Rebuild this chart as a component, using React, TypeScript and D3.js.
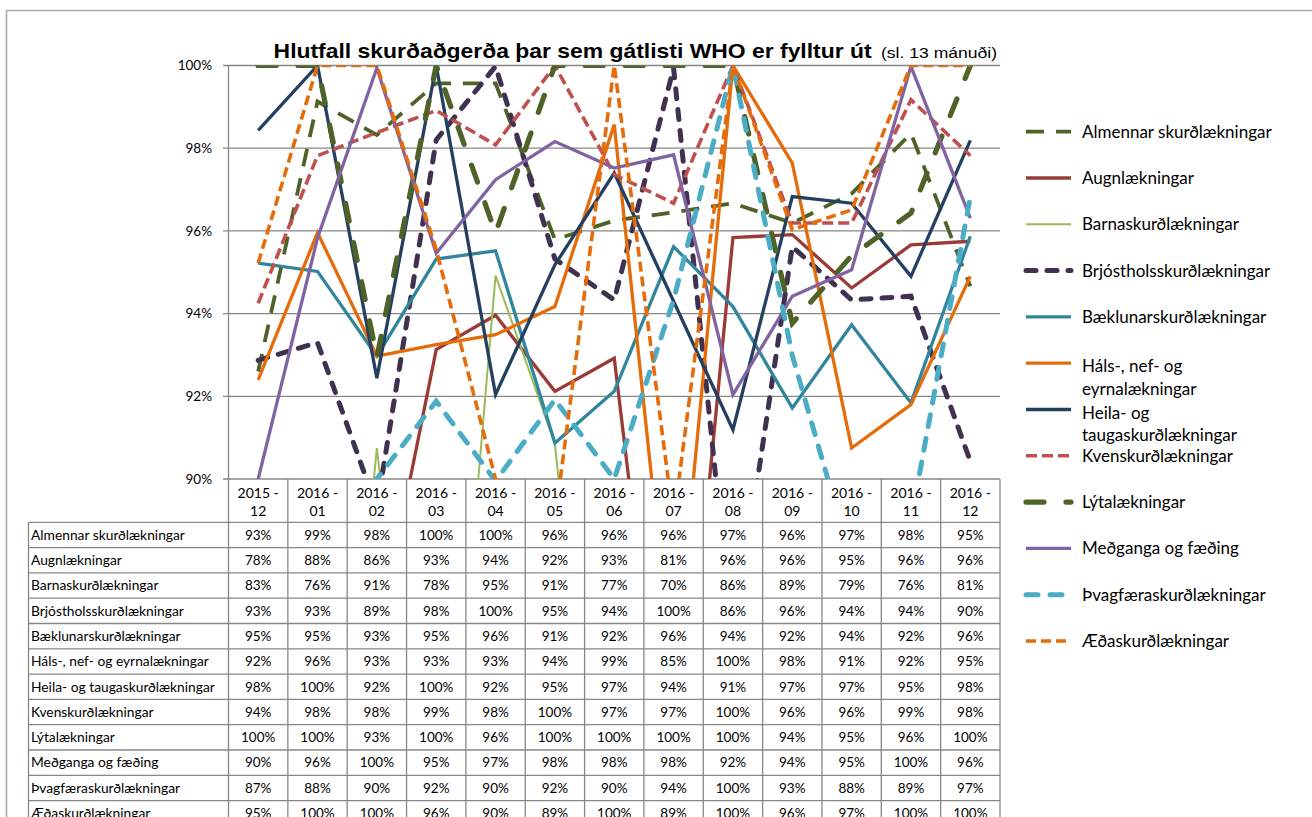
import React from 'react';
import * as d3 from 'd3';

// ---------- DATA ----------
const categories = [
  '2015 - 12', '2016 - 01', '2016 - 02', '2016 - 03', '2016 - 04', '2016 - 05', '2016 - 06',
  '2016 - 07', '2016 - 08', '2016 - 09', '2016 - 10', '2016 - 11', '2016 - 12',
];
const yTicks = [90, 92, 94, 96, 98, 100];

const seriesNames = [
  'Almennar skurðlækningar',
  'Augnlækningar',
  'Barnaskurðlækningar',
  'Brjóstholsskurðlækningar',
  'Bæklunarskurðlækningar',
  'Háls-, nef- og eyrnalækningar',
  'Heila- og taugaskurðlækningar',
  'Kvenskurðlækningar',
  'Lýtalækningar',
  'Meðganga og fæðing',
  'Þvagfæraskurðlækningar',
  'Æðaskurðlækningar',
];
const legendLabels = [
  ['Almennar skurðlækningar'],
  ['Augnlækningar'],
  ['Barnaskurðlækningar'],
  ['Brjóstholsskurðlækningar'],
  ['Bæklunarskurðlækningar'],
  ['Háls-, nef- og', 'eyrnalækningar'],
  ['Heila- og', 'taugaskurðlækningar'],
  ['Kvenskurðlækningar'],
  ['Lýtalækningar'],
  ['Meðganga og fæðing'],
  ['Þvagfæraskurðlækningar'],
  ['Æðaskurðlækningar'],
];

const almennar = [92.6, 99.13, 98.32, 99.57, 99.57, 95.79, 96.25, 96.45, 96.67, 96.19, 96.9, 98.36, 94.66];
const augn = [78, 88, 86, 93.13, 93.96, 92.12, 92.92, 81, 95.84, 95.91, 94.62, 95.66, 95.75];
const barna = [83, 76, 90.75, 78, 94.92, 90.85, 77, 70, 86, 89, 79, 76, 81];
const brjost = [92.87, 93.3, 89.3, 98.2, 99.98, 95.32, 94.33, 99.94, 86, 95.62, 94.33, 94.42, 90.43];
const baeklun = [95.22, 95.02, 92.97, 95.32, 95.52, 90.87, 92.12, 95.62, 94.17, 91.72, 93.73, 91.84, 95.87];
const hals = [92.4, 95.96, 92.97, 93.25, 93.49, 94.17, 98.57, 85, 100, 97.64, 90.75, 91.8, 94.9];
const heila = [98.43, 100, 92.44, 100, 92.04, 95.18, 97.4, 94.3, 91.19, 96.83, 96.67, 94.9, 98.19];
const kvensk = [94.25, 97.82, 98.38, 98.91, 98.08, 100, 97.36, 96.67, 100, 96.19, 96.19, 99.17, 97.82];
const lyta = [100, 100, 92.95, 100, 95.95, 100, 100, 100, 100, 93.77, 95.4, 96.43, 100];
const medganga = [90.0, 95.83, 99.94, 95.46, 97.24, 98.16, 97.52, 97.84, 92.04, 94.42, 95.06, 99.98, 96.31];
const thvag = [87, 88, 90.0, 91.88, 89.95, 91.92, 90.0, 94.33, 100, 92.99, 88, 89, 96.83];
const aeda = [95.22, 100, 100, 95.55, 90.0, 89, 100, 89, 100, 96.03, 96.51, 100, 100];

const seriesValues = [almennar, augn, barna, brjost, baeklun, hals, heila, kvensk, lyta, medganga, thvag, aeda];

// ---------- STYLES ----------
const seriesStyles = [
  { color: '#4F6228', width: 3.8, dash: '18 12', cap: 'butt' },
  { color: '#9B3B38', width: 3.3, dash: '', cap: 'butt' },
  { color: '#9BBB59', width: 2, dash: '', cap: 'butt' },
  { color: '#403151', width: 5, dash: '10 11', cap: 'round' },
  { color: '#31859C', width: 3.3, dash: '', cap: 'butt' },
  { color: '#E46C0A', width: 3.3, dash: '', cap: 'butt' },
  { color: '#243F60', width: 3.3, dash: '', cap: 'butt' },
  { color: '#C0504D', width: 3.6, dash: '11 5', cap: 'butt' },
  { color: '#4F6228', width: 5.2, dash: '18 22', cap: 'round' },
  { color: '#8064A2', width: 3.3, dash: '', cap: 'butt' },
  { color: '#4BACC6', width: 5, dash: '12 12', cap: 'round' },
  { color: '#E46C0A', width: 3.6, dash: '10 5', cap: 'butt' },
];

const W = 1312;
const H = 817;
const plotL = 228.5;
const plotR = 1000;
const plotT = 65.5;
const plotB = 479;
const headerB = 522.3;
const rowH = 25.3;
const tableL = 28.5;
const gridColor = '#878787';
const font = "Lato, 'Open Sans', sans-serif";

export default function App() {
  const x = d3.scaleBand<string>().domain(categories).range([plotL, plotR]).paddingInner(0).paddingOuter(0);
  const bw = x.bandwidth();
  const cx = (i: number) => (x(categories[i]) as number) + bw / 2;
  const y = d3.scaleLinear().domain([90, 100]).range([plotB, plotT]);

  const line = d3
    .line<number>()
    .x((_, i) => cx(i))
    .y((d) => y(d));

  const legendY = d3.scaleLinear().domain([0, 11]).range([131.7, 641]);

  const colEdges = d3.range(categories.length + 1).map((k) => plotL + k * bw);

  return (
    <svg
      width={W}
      height={H}
      style={{ position: 'absolute', left: 0, top: 0, background: '#fff' }}
      fontFamily={font}
    >
      <defs>
        <clipPath id="plotClip">
          <rect x={plotL} y={plotT} width={plotR - plotL} height={plotB - plotT} />
        </clipPath>
      </defs>
      <rect x={0} y={0} width={W} height={H} fill="#fff" />
      {/* outer frame */}
      <path d={`M6.5,${H} L6.5,10.5 L${W},10.5`} fill="none" stroke="#ababab" strokeWidth={1.6} />

      {/* title */}
      <text
        x={273.6}
        y={57.5}
        fontFamily="'Liberation Sans Narrow','Liberation Sans',Arial,sans-serif"
        fontWeight="bold"
        fontSize={21}
        textLength={598}
        lengthAdjust="spacingAndGlyphs"
        fill="#000"
      >
        Hlutfall skurðaðgerða þar sem gátlisti WHO er fylltur út
      </text>
      <text
        x={881}
        y={57.5}
        fontFamily="'Liberation Sans Narrow','Liberation Sans',Arial,sans-serif"
        fontSize={15}
        textLength={116}
        lengthAdjust="spacingAndGlyphs"
        fill="#000"
      >
        (sl. 13 mánuði)
      </text>

      {/* gridlines & ticks */}
      {yTicks.map((t) => (
        <g key={t}>
          <line x1={223} x2={plotR} y1={y(t)} y2={y(t)} stroke={gridColor} strokeWidth={1.3} />
          <text x={212} y={y(t) + 4.8} textAnchor="end" fontSize={13.5} fill="#000">
            {t}%
          </text>
        </g>
      ))}
      <line x1={plotL} x2={plotL} y1={plotT} y2={plotB} stroke={gridColor} strokeWidth={1.3} />

      {/* series lines */}
      <g clipPath="url(#plotClip)">
        {seriesValues.map((vals, si) => {
          const s = seriesStyles[si];
          return (
            <path
              key={si}
              d={line(vals) || ''}
              fill="none"
              stroke={s.color}
              strokeWidth={s.width}
              strokeDasharray={s.dash || undefined}
              strokeLinecap={s.cap as any}
              strokeLinejoin="miter"
            />
          );
        })}
      </g>

      {/* data table */}
      <g>
        {colEdges.map((cxv, k) => (
          <line key={k} x1={cxv} x2={cxv} y1={plotB} y2={H} stroke={gridColor} strokeWidth={1.3} />
        ))}
        <line x1={tableL} x2={tableL} y1={headerB} y2={H} stroke={gridColor} strokeWidth={1.3} />
        {d3.range(seriesNames.length + 1).map((r) => (
          <line
            key={r}
            x1={tableL}
            x2={plotR}
            y1={headerB + r * rowH}
            y2={headerB + r * rowH}
            stroke={gridColor}
            strokeWidth={1.3}
          />
        ))}
        {categories.map((c, i) => {
          const [a, b] = c.split(' - ');
          return (
            <g key={c}>
              <text x={cx(i)} y={498} textAnchor="middle" fontSize={14} fill="#000">
                {a} -
              </text>
              <text x={cx(i)} y={516} textAnchor="middle" fontSize={14} fill="#000">
                {b}
              </text>
            </g>
          );
        })}
        {seriesNames.map((n, r) => {
          const cy = headerB + r * rowH + rowH / 2 + 4.8;
          return (
            <g key={n}>
              <text x={31} y={cy} fontSize={13.8} fill="#000">
                {n}
              </text>
              {seriesValues[r].map((v, i) => (
                <text key={i} x={cx(i)} y={cy} textAnchor="middle" fontSize={13.5} fill="#000">
                  {Math.round(v)}%
                </text>
              ))}
            </g>
          );
        })}
      </g>

      {/* legend */}
      {legendLabels.map((lines, k) => {
        const s = seriesStyles[k];
        const ly = legendY(k);
        return (
          <g key={k}>
            <line
              x1={1026}
              x2={1071}
              y1={ly}
              y2={ly}
              stroke={s.color}
              strokeWidth={s.width}
              strokeDasharray={s.dash || undefined}
              strokeLinecap={s.cap as any}
            />
            {lines.length === 1 ? (
              <text x={1082} y={ly + 6} fontSize={17} fill="#000">
                {lines[0]}
              </text>
            ) : (
              lines.map((t, j) => (
                <text key={j} x={1082} y={ly + 9 + j * 22.5} fontSize={17} fill="#000">
                  {t}
                </text>
              ))
            )}
          </g>
        );
      })}
    </svg>
  );
}
